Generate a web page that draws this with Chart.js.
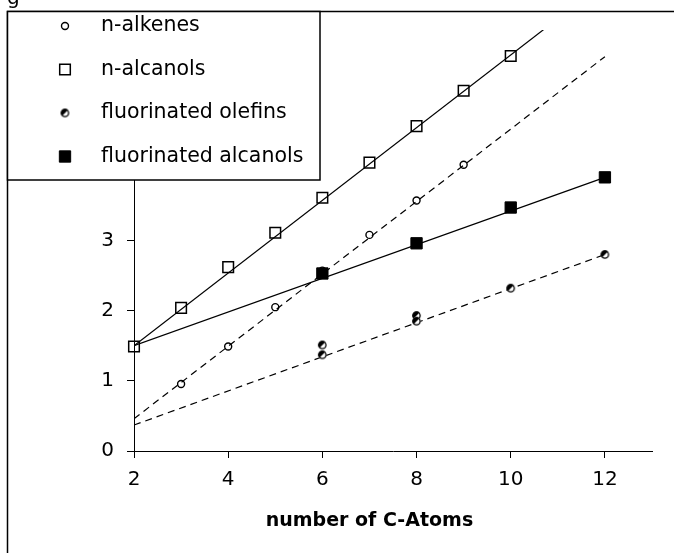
<!DOCTYPE html>
<html><head><meta charset="utf-8">
<script src="https://cdn.jsdelivr.net/npm/chart.js@4"></script>
<style>html,body{margin:0;padding:0;background:#fff}canvas{display:block}</style>
</head><body>
<canvas id="c" width="674" height="553"></canvas>
<script>
// ---- data ----
const xTickLabels = ['2','4','6','8','10','12'];
const yTickLabels = ['0','1','2','3','4','5','6'];
const alkeneC = [3,4,5,6,7,8,9];
const alkeneV = [0.955,1.49,2.05,2.57,3.08,3.57,4.08];
const alcanolC = [2,3,4,5,6,7,8,9,10];
const alcanolV = [1.49,2.04,2.62,3.11,3.61,4.11,4.63,5.135,5.63];
const fOlefinC = [6,6,8,8,10,12];
const fOlefinV = [1.51,1.37,1.93,1.85,2.32,2.80];
const fAlcanolC = [6,8,10,12];
const fAlcanolV = [2.53,2.96,3.47,3.90];
const trendC = [2,12];
const alkeneTrend = [0.46,5.62];
const alcanolTrend = [1.50,6.68];
const fOlefinTrend = [0.37,2.80];
const fAlcanolTrend = [1.50,3.90];
const legendLabels = ['n-alkenes','n-alcanols','fluorinated olefins','fluorinated alcanols'];
const axisTitle = 'number of C-Atoms';

const pts = (xs, ys) => xs.map((x, i) => ({x, y: ys[i]}));
const FONT = 'DejaVu Sans';

function halfCircle(r){
  const s = Math.ceil(2*r + 2);
  const c = document.createElement('canvas'); c.width = s; c.height = s;
  const g = c.getContext('2d'); const cx = s/2, cy = s/2;
  g.fillStyle = '#fff'; g.beginPath(); g.arc(cx, cy, r, 0, 2*Math.PI); g.fill();
  g.fillStyle = '#000'; g.beginPath(); g.moveTo(cx, cy); g.arc(cx, cy, r, 0.75*Math.PI, 1.75*Math.PI); g.closePath(); g.fill();
  g.strokeStyle = '#000'; g.lineWidth = 1.3; g.beginPath(); g.arc(cx, cy, r - 0.6, 0, 2*Math.PI); g.stroke();
  return c;
}
const halfImg = halfCircle(4.2);

const markerStyles = [
  {pointStyle:'circle', radius:3.5, fill:'rgba(0,0,0,0)', bw:1.4},
  {pointStyle:'rect', radius:7.5, fill:'rgba(0,0,0,0)', bw:1.5},
  {pointStyle:halfImg, radius:4, fill:'#000', bw:1},
  {pointStyle:'rect', radius:8, fill:'#000', bw:1}
];

function pointDs(label, xs, ys, m, order){
  return {type:'scatter', label, data: pts(xs, ys), showLine:false, clip:false, order,
    pointStyle:m.pointStyle, pointRadius:m.radius, pointHoverRadius:m.radius,
    pointBorderColor:'#000', pointBackgroundColor:m.fill, pointBorderWidth:m.bw};
}
function trendDs(ys, dash){
  return {type:'line', data: pts(trendC, ys), showLine:true, pointRadius:0, order:5,
    borderColor:'#000', borderWidth:1.2, borderDash:dash, fill:false, tension:0};
}

const frameLegend = {
  id:'frameLegend',
  afterDraw(chart){
    const ctx = chart.ctx;
    ctx.save();
    // partial caption letter at the top
    ctx.fillStyle = '#000';
    ctx.font = '20px "' + FONT + '"';
    ctx.textBaseline = 'alphabetic';
    ctx.textAlign = 'left';
    ctx.fillText('g', 7, 4);
    // frame lines
    ctx.strokeStyle = '#000'; ctx.lineWidth = 1.5;
    ctx.beginPath(); ctx.moveTo(7.5, 553); ctx.lineTo(7.5, 11.5); ctx.lineTo(674, 11.5); ctx.stroke();
    // axis title
    const xs = chart.scales.x;
    ctx.font = 'bold 19px "' + FONT + '"';
    ctx.textAlign = 'center'; ctx.textBaseline = 'middle';
    ctx.fillText(axisTitle, (xs.getPixelForValue(2) + xs.getPixelForValue(12))/2, 521);
    // legend box
    ctx.fillStyle = '#fff';
    ctx.fillRect(7.5, 11.5, 312.5, 168.5);
    ctx.lineWidth = 1.5;
    ctx.strokeRect(7.5, 11.5, 312.5, 168.5);
    const rows = [26, 69.5, 113, 156.5];
    ctx.font = '20.5px "' + FONT + '"';
    ctx.textAlign = 'left'; ctx.textBaseline = 'middle';
    legendLabels.forEach((lab, i) => {
      const m = markerStyles[i];
      ctx.fillStyle = m.fill === '#000' ? '#000' : '#fff';
      ctx.strokeStyle = '#000'; ctx.lineWidth = m.bw;
      Chart.helpers.drawPoint(ctx, {pointStyle:m.pointStyle, radius:m.radius, borderWidth:m.bw, rotation:0}, 65, rows[i]);
      ctx.fillStyle = '#000';
      ctx.fillText(lab, 101, rows[i]);
    });
    ctx.restore();
  }
};

const tickFont = {family: FONT, size: 20};
new Chart(document.getElementById('c'), {
  type:'scatter',
  data:{datasets:[
    pointDs(legendLabels[0], alkeneC, alkeneV, markerStyles[0], 2),
    pointDs(legendLabels[1], alcanolC, alcanolV, markerStyles[1], 1),
    pointDs(legendLabels[2], fOlefinC, fOlefinV, markerStyles[2], 1),
    pointDs(legendLabels[3], fAlcanolC, fAlcanolV, markerStyles[3], 0),
    trendDs(alkeneTrend, [7,5]),
    trendDs(alcanolTrend, []),
    trendDs(fOlefinTrend, [7,5]),
    trendDs(fAlcanolTrend, [])
  ]},
  options:{
    responsive:false, animation:false, devicePixelRatio:1,
    layout:{padding:{left:0, right:22, top:30, bottom:0}},
    plugins:{legend:{display:false}, tooltip:{enabled:false}, title:{display:false}},
    scales:{
      x:{type:'linear', min:2, max:13, afterFit(s){ s.height = 102; },
        ticks:{stepSize:2, includeBounds:false, color:'#000', font:tickFont, padding:10, maxRotation:0, autoSkip:false,
          callback:(v) => xTickLabels[(v-2)/2] ?? ''},
        grid:{drawOnChartArea:false, drawTicks:true, tickLength:7, color:'#000', lineWidth:1},
        border:{display:true, color:'#000', width:1}},
      y:{type:'linear', min:0, max:6, afterFit(s){ s.width = 134; },
        ticks:{stepSize:1, color:'#000', font:tickFont, padding:13,
          callback:(v) => yTickLabels[v] ?? ''},
        grid:{drawOnChartArea:false, drawTicks:true, tickLength:7, color:'#000', lineWidth:1},
        border:{display:true, color:'#000', width:1}}
    }
  },
  plugins:[frameLegend]
});
</script>
</body></html>
